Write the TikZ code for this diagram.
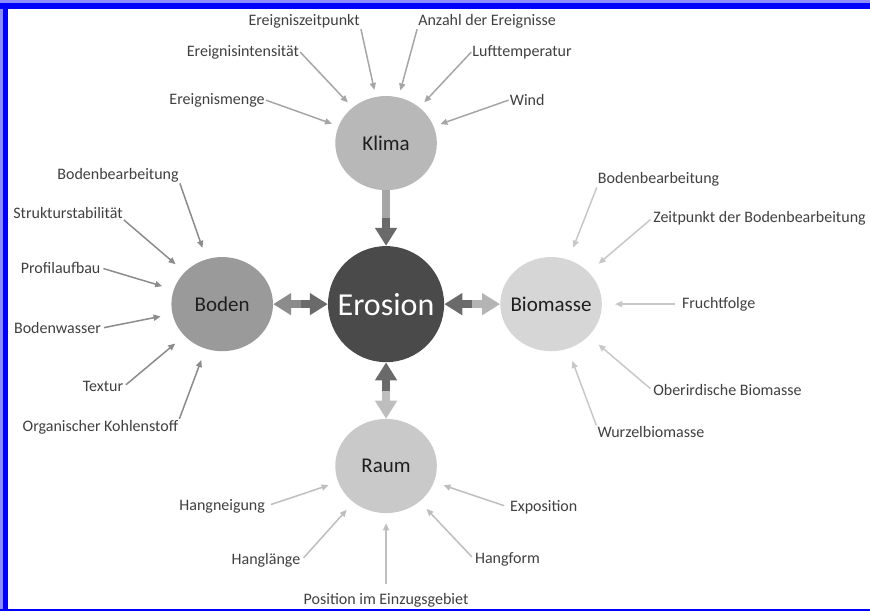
\documentclass[tikz,border=0pt]{standalone}
\usepackage{fontspec}
\setmainfont{Carlito}
\definecolor{erosgray}{RGB}{74, 74, 74}
\definecolor{klimagray}{RGB}{184, 184, 184}
\definecolor{bodengray}{RGB}{154, 154, 154}
\definecolor{biogray}{RGB}{214, 214, 214}
\definecolor{raumgray}{RGB}{201, 201, 201}
\definecolor{labelgray}{RGB}{64, 64, 64}
\definecolor{klimaline}{RGB}{166, 166, 166}
\definecolor{bodenline}{RGB}{140, 140, 140}
\definecolor{bioline}{RGB}{200, 200, 200}
\definecolor{raumline}{RGB}{190, 190, 190}
\definecolor{arrowdark}{RGB}{106, 106, 106}
\definecolor{frameblue}{RGB}{0, 0, 255}
\usetikzlibrary{shapes.geometric, arrows.meta, calc}

\begin{document}
\begin{tikzpicture}[
  hub/.style={ellipse, inner sep=0pt, minimum width=3.57cm, minimum height=3.31cm},
  hubtxt/.style={inner sep=0pt, font=\fontsize{21}{25}\selectfont, text=black!88},
  lbl/.style={inner sep=1pt, font=\fontsize{16}{19}\selectfont, text=labelgray},
  feed/.style={line width=1.5pt, -{Triangle[length=7pt, width=6pt]}},
  kfeed/.style={feed, color=klimaline, shorten >=7pt},
  bfeed/.style={feed, color=bodenline, shorten >=12pt},
  mfeed/.style={feed, color=bioline, shorten >=13pt},
  rfeed/.style={feed, color=raumline, shorten >=10pt},
  shaft/.style={line width=8pt},
  bigtip/.style={line width=8pt, -{Triangle[length=18pt, width=21pt]}}
]
  \useasboundingbox (-13.57, -10.79) rectangle (17.01, 10.69);
  \fill[white] (-13.57, -10.79) rectangle (17.01, 10.69);

  \node[hub, minimum width=4.08cm, minimum height=4.08cm, fill=erosgray,
    label={[hubtxt, text=white, font=\fontsize{32}{38}\selectfont]center:Erosion}] (erosion) at (0, 0) {};
  \node[hub, fill=klimagray, label={[hubtxt]center:Klima}] (klima) at (0, 5.66) {};
  \node[hub, fill=bodengray, label={[hubtxt]center:Boden}] (boden) at (-5.76, 0) {};
  \node[hub, fill=biogray, label={[hubtxt]center:Biomasse}] (biomasse) at (5.80, 0) {};
  \node[hub, fill=raumgray, label={[hubtxt]center:Raum}] (raum) at (0, -5.69) {};

  \coordinate (km) at ($(klima.south)!0.5!(erosion.north)$);
  \coordinate (bm) at ($(boden.east)!0.5!(erosion.west)$);
  \coordinate (mm) at ($(erosion.east)!0.5!(biomasse.west)$);
  \coordinate (rm) at ($(erosion.south)!0.5!(raum.north)$);
  \draw[shaft, color=klimaline] (klima.south) -- (km);
  \draw[bigtip, color=arrowdark] (km) -- (erosion.north);
  \draw[bigtip, color=bodenline] (bm) -- (boden.east);
  \draw[bigtip, color=arrowdark] (bm) -- (erosion.west);
  \draw[bigtip, color=arrowdark] (mm) -- (erosion.east);
  \draw[bigtip, color=bioline!90!black] (mm) -- (biomasse.west);
  \draw[bigtip, color=arrowdark] (rm) -- (erosion.south);
  \draw[bigtip, color=raumline] (rm) -- (raum.north);

  \node[lbl] (ezp) at (-2.88, 9.95) {Ereigniszeitpunkt};
  \node[lbl] (anz) at (3.55, 9.95) {Anzahl der Ereignisse};
  \node[lbl] (ein) at (-5.03, 8.86) {Ereignisintensität};
  \node[lbl] (luf) at (4.78, 8.86) {Lufttemperatur};
  \node[lbl] (emg) at (-5.94, 7.17) {Ereignismenge};
  \node[lbl] (wnd) at (4.96, 7.17) {Wind};
  \draw[kfeed] (ezp.south east) -- (klima);
  \draw[kfeed] (anz.south west) -- (klima);
  \draw[kfeed] (ein.east) -- (klima);
  \draw[kfeed] (luf.west) -- (klima);
  \draw[kfeed] (emg.east) -- (klima);
  \draw[kfeed] (wnd.west) -- (klima);

  \node[lbl] (bbl) at (-9.42, 4.53) {Bodenbearbeitung};
  \node[lbl] (sst) at (-11.18, 3.20) {Strukturstabilität};
  \node[lbl] (pro) at (-11.44, 1.27) {Profilaufbau};
  \node[lbl] (bwa) at (-11.55, -0.84) {Bodenwasser};
  \node[lbl] (tex) at (-9.95, -2.88) {Textur};
  \node[lbl] (okh) at (-10.04, -4.32) {Organischer Kohlenstoff};
  \draw[bfeed] (bbl.south east) -- (boden);
  \draw[bfeed] (sst.south east) -- (boden);
  \draw[bfeed, shorten <=2pt] (pro.east) -- (boden);
  \draw[bfeed, shorten <=2pt] (bwa.east) -- (boden);
  \draw[bfeed, shorten <=2pt] (tex.east) -- (boden);
  \draw[bfeed] (okh.north east) -- (boden);

  \node[lbl] (bbr) at (9.58, 4.39) {Bodenbearbeitung};
  \node[lbl, anchor=west] (zpb) at (9.35, 3.02) {Zeitpunkt der Bodenbearbeitung};
  \node[lbl] (fru) at (11.69, 0) {Fruchtfolge};
  \node[lbl] (obm) at (12.00, -3.02) {Oberirdische Biomasse};
  \node[lbl] (wur) at (9.31, -4.50) {Wurzelbiomasse};
  \draw[mfeed] (bbr.south west) -- (biomasse);
  \draw[mfeed, shorten <=2pt] (zpb.west) -- (biomasse);
  \draw[mfeed, shorten <=6pt] (fru.west) -- (biomasse);
  \draw[mfeed, shorten <=2pt] (obm.west) -- (biomasse);
  \draw[mfeed] (wur.north west) -- (biomasse);

  \node[lbl] (hng) at (-5.76, -7.10) {Hangneigung};
  \node[lbl] (exp) at (5.54, -7.14) {Exposition};
  \node[lbl] (hgl) at (-4.22, -9.00) {Hanglänge};
  \node[lbl] (hgf) at (4.27, -8.96) {Hangform};
  \node[lbl] (pos) at (0, -10.40) {Position im Einzugsgebiet};
  \draw[rfeed, shorten <=5pt] (hng.east) -- (raum);
  \draw[rfeed, shorten <=5pt] (exp.west) -- (raum);
  \draw[rfeed, shorten <=3pt] (hgl.east) -- (raum);
  \draw[rfeed, shorten <=3pt] (hgf.west) -- (raum);
  \draw[rfeed, shorten <=8pt] (pos.north) -- (raum);

  \fill[frameblue!45] (-13.57, 10.69) rectangle (17.01, 10.58);
  \fill[frameblue!45] (-13.57, 10.69) rectangle (-13.46, -10.79);
  \fill[frameblue] (-13.57, 10.58) rectangle (17.01, 10.37);
  \fill[frameblue] (-13.46, 10.58) rectangle (-13.29, -10.79);
  \fill[frameblue] (-13.57, -10.72) rectangle (17.01, -10.79);
\end{tikzpicture}
\end{document}
